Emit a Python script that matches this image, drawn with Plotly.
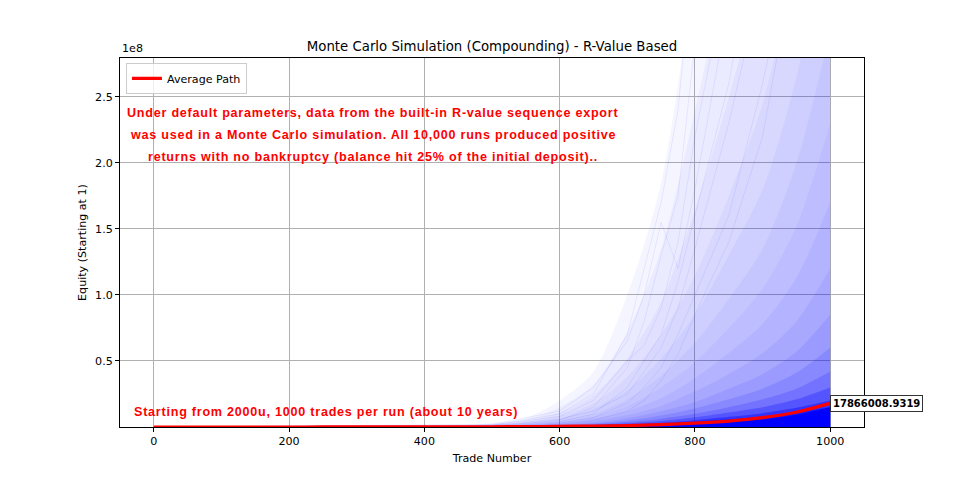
import plotly.graph_objects as go

# ---------------- data ----------------
avg_x = [0, 50, 100, 150, 200, 250, 300, 350, 400, 450, 500, 550, 600, 650,
         700, 750, 800, 850, 900, 950, 1000]
avg_y = [2000, 3150, 4960, 7800, 12300, 19400, 30500, 48000, 75600, 119000,
         187000, 295000, 465000, 732000, 1150000, 1810000, 2860000, 4500000,
         7080000, 11200000, 17866008.9319]
final_avg_label = "17866008.9319"

# upper envelopes of the simulated-path cloud (equity in units of 1e8),
# from the faint outer haze down to the dense core, with their opacities
band_x = [0, 100, 200, 300, 400, 500, 550, 600, 650, 700, 750, 800, 850,
          900, 950, 1000]
band_start = [0.00002, 0.00005, 0.0001, 0.0003, 0.0008]
band_tail = [
    [0.03, 0.07, 0.2, 0.42, 1.0, 1.85, 3.5, 5.5, 8.0, 12.0, 20.0],
    [0.025, 0.055, 0.15, 0.32, 0.72, 1.35, 2.4, 3.6, 5.2, 7.6, 12.0],
    [0.02, 0.045, 0.11, 0.24, 0.52, 0.95, 1.65, 2.5, 3.5, 5.2, 8.0],
    [0.016, 0.035, 0.085, 0.18, 0.38, 0.7, 1.15, 1.75, 2.45, 3.6, 5.5],
    [0.013, 0.028, 0.065, 0.14, 0.28, 0.52, 0.85, 1.3, 1.8, 2.65, 4.0],
    [0.011, 0.022, 0.05, 0.1, 0.21, 0.39, 0.64, 0.97, 1.35, 2.0, 3.0],
    [0.009, 0.018, 0.04, 0.08, 0.16, 0.3, 0.49, 0.75, 1.05, 1.52, 2.3],
    [0.008, 0.015, 0.032, 0.063, 0.12, 0.22, 0.37, 0.56, 0.78, 1.13, 1.7],
    [0.006, 0.012, 0.025, 0.048, 0.09, 0.16, 0.27, 0.4, 0.56, 0.8, 1.2],
    [0.005, 0.01, 0.02, 0.036, 0.067, 0.12, 0.19, 0.29, 0.4, 0.57, 0.85],
    [0.004, 0.008, 0.015, 0.027, 0.05, 0.087, 0.14, 0.21, 0.29, 0.41, 0.6],
    [0.0035, 0.006, 0.012, 0.021, 0.037, 0.063, 0.1, 0.15, 0.21, 0.29, 0.42],
    [0.003, 0.005, 0.009, 0.016, 0.028, 0.046, 0.073, 0.11, 0.15, 0.21, 0.3],
    [0.0025, 0.004, 0.007, 0.012, 0.02, 0.033, 0.052, 0.077, 0.105, 0.145, 0.2],
    [0.002, 0.0035, 0.006, 0.01, 0.016, 0.025, 0.04, 0.058, 0.08, 0.11, 0.15],
]
band_alpha = [0.04, 0.04, 0.04, 0.04, 0.04, 0.04, 0.045, 0.05, 0.06, 0.08,
              0.11, 0.16, 0.26, 0.40, 0.60]
core_tail = [0.002, 0.003, 0.005, 0.008, 0.012, 0.018, 0.028, 0.04, 0.057, 0.09, 0.15]

# a few individual outlying runs (equity in units of 1e8)
path_x = [0, 500, 600, 650, 700, 725, 750, 775, 800, 850, 900, 950, 1000]
paths = [
    [0.00002, 0.01, 0.05, 0.15, 0.45, 0.8, 1.3, 1.75, 2.9, 5.0, 8.0, 12.0, 18.0],
    [0.00002, 0.02, 0.12, 0.3, 0.65, 1.0, 1.55, 1.2, 1.8, 3.2, 5.0, 8.0, 12.0],
    [0.00002, 0.008, 0.04, 0.1, 0.3, 0.5, 0.7, 1.1, 1.6, 2.6, 4.0, 6.0, 10.0],
    [0.00002, 0.015, 0.08, 0.2, 0.5, 0.62, 0.9, 1.4, 2.2, 3.5, 6.0, 9.0, 14.0],
    [0.00002, 0.005, 0.03, 0.07, 0.18, 0.3, 0.45, 0.7, 1.0, 1.6, 2.6, 3.8, 5.5],
    [0.00002, 0.01, 0.06, 0.12, 0.25, 0.42, 0.6, 0.9, 1.35, 2.3, 3.4, 5.0, 7.5],
    [0.00002, 0.004, 0.02, 0.05, 0.12, 0.2, 0.35, 0.55, 0.85, 1.4, 2.2, 3.5, 5.0],
    [0.00002, 0.012, 0.1, 0.25, 0.7, 1.2, 1.7, 2.4, 3.5, 6.0, 9.0, 13.0, 18.0],
]

x_ticks = [0, 200, 400, 600, 800, 1000]
y_ticks = [0.5e8, 1.0e8, 1.5e8, 2.0e8, 2.5e8]
y_tick_text = ["0.5", "1.0", "1.5", "2.0", "2.5"]

title = "Monte Carlo Simulation (Compounding) - R-Value Based"
note_lines = [
    "Under default parameters, data from the built-in R-value sequence export",
    "was used in a Monte Carlo simulation. All 10,000 runs produced positive",
    "returns with no bankruptcy (balance hit 25% of the initial deposit)..",
]
bottom_note = "Starting from 2000u, 1000 trades per run (about 10 years)"

# ---------------- figure ----------------
fig = go.Figure()

for tail, a in zip(band_tail, band_alpha):
    fig.add_trace(go.Scatter(
        x=band_x, y=[v * 1e8 for v in band_start + tail], mode="lines",
        line=dict(width=0, shape="spline", smoothing=0.8), fill="tozeroy",
        fillcolor=f"rgba(0,0,255,{a})", hoverinfo="skip", showlegend=False))

fig.add_trace(go.Scatter(
    x=band_x, y=[v * 1e8 for v in band_start + core_tail], mode="lines",
    line=dict(width=0, shape="spline", smoothing=0.8), fill="tozeroy",
    fillcolor="rgba(0,0,255,1)", hoverinfo="skip", showlegend=False))

for p in paths:
    fig.add_trace(go.Scatter(
        x=path_x, y=[v * 1e8 for v in p], mode="lines",
        line=dict(width=0.6, color="rgba(0,0,255,0.12)"),
        hoverinfo="skip", showlegend=False))

fig.add_trace(go.Scatter(
    x=avg_x, y=avg_y, mode="lines", name="Average Path",
    line=dict(color="red", width=3.2, shape="spline", smoothing=0.6),
    showlegend=True))

FONT = "DejaVu Sans"
RED_FONT = dict(family="Liberation Sans", size=12.6, color="red", weight="bold")


def spaced(t):
    return f'<span style="letter-spacing:0.75px">{t}</span>'


annos = []
note_y = [2.379e8, 2.212e8, 2.045e8]
for line, yy in zip(note_lines, note_y):
    annos.append(dict(x=324, y=yy, xref="x", yref="y", text=spaced(line),
                      showarrow=False, xanchor="center", yanchor="middle",
                      font=RED_FONT))
annos.append(dict(x=254, y=0.114e8, xref="x", yref="y", text=spaced(bottom_note),
                  showarrow=False, xanchor="center", yanchor="middle",
                  font=RED_FONT))
annos.append(dict(x=avg_x[-1], y=avg_y[-1], xref="x", yref="y",
                  text=final_avg_label, showarrow=False,
                  xanchor="left", yanchor="middle", xshift=0,
                  bgcolor="white", bordercolor="#333333", borderwidth=1,
                  borderpad=2,
                  font=dict(family=FONT, size=10, color="black",
                            weight="bold")))
annos.append(dict(x=0, y=1, xref="paper", yref="paper", text="1e8",
                  showarrow=False, xanchor="left", yanchor="bottom",
                  yshift=1, font=dict(family=FONT, size=11.1, color="black")))

fig.update_layout(
    width=960, height=480,
    margin=dict(l=120, r=96, t=58, b=53),
    paper_bgcolor="white", plot_bgcolor="white",
    font=dict(family=FONT, size=11.1, color="black"),
    title=dict(text=title, x=0.5125, xanchor="center", y=1 - 46 / 480,
               yanchor="middle", font=dict(family=FONT, size=13.3)),
    legend=dict(x=0.008, y=0.987, xanchor="left", yanchor="top",
                bgcolor="rgba(255,255,255,0.8)", bordercolor="#cccccc",
                borderwidth=1, font=dict(family=FONT, size=11.1)),
    annotations=annos,
    xaxis=dict(range=[-50, 1050], tickvals=x_ticks, showgrid=True,
               gridcolor="#b0b0b0", gridwidth=0.8, zeroline=False,
               showline=True, linecolor="black", linewidth=1, mirror=True,
               ticks="outside", ticklen=4, tickcolor="black",
               title=dict(text="Trade Number", standoff=6,
                          font=dict(family=FONT, size=11.1))),
    yaxis=dict(range=[0, 2.795e8], tickvals=y_ticks, ticktext=y_tick_text,
               showgrid=True, gridcolor="#b0b0b0", gridwidth=0.8,
               zeroline=False, showline=True, linecolor="black", linewidth=1,
               mirror=True, ticks="outside", ticklen=4, tickcolor="black",
               title=dict(text="Equity (Starting at 1)", standoff=6,
                          font=dict(family=FONT, size=11.1))),
)

fig.write_html("out.html")
